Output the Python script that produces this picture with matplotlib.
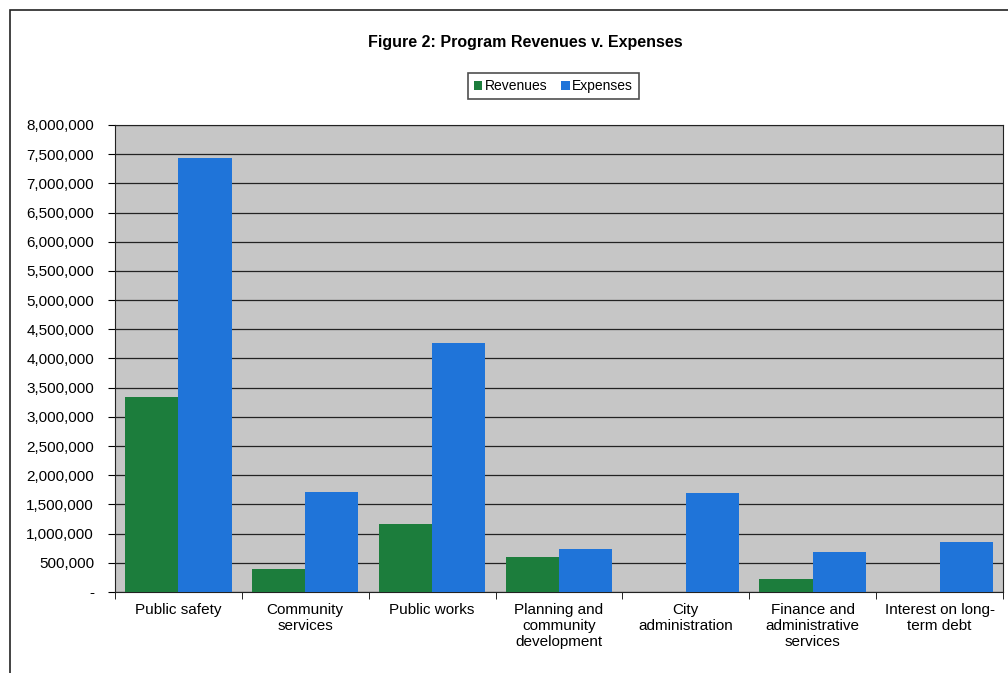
import matplotlib.pyplot as plt
import numpy as np
from matplotlib.patches import Rectangle

plt.rcParams['font.family'] = ['Liberation Sans', 'DejaVu Sans']

categories = ['Public safety', 'Community\nservices', 'Public works',
              'Planning and\ncommunity\ndevelopment', 'City\nadministration',
              'Finance and\nadministrative\nservices', 'Interest on long-\nterm debt']
revenues = [3340000, 390000, 1160000, 600000, 0, 220000, 0]
expenses = [7430000, 1710000, 4270000, 740000, 1700000, 685000, 860000]

fig = plt.figure(figsize=(10.08, 6.73), dpi=100)
fig.patches.append(Rectangle((10 / 1008, -0.1), 1.2, 1 - 10 / 673 + 0.1,
                             transform=fig.transFigure, fill=False,
                             edgecolor='#222222', linewidth=1.2))

ax = fig.add_axes([0.114, 0.1204, 0.881, 0.6939])
ax.set_facecolor('#c6c6c6')

x = np.arange(len(categories))
w = 0.42
ax.bar(x - w / 2, revenues, w, color='#1c7d3c', label='Revenues', zorder=3)
ax.bar(x + w / 2, expenses, w, color='#1f74d9', label='Expenses', zorder=3)

ax.set_xlim(-0.5, len(categories) - 0.5)
ax.set_ylim(0, 8000000)
yt = np.arange(0, 8000001, 500000)
ax.set_yticks(yt)
ax.set_yticklabels(['-'] + [f'{v:,}' for v in yt[1:]], fontsize=11)
ax.yaxis.grid(True, color='#222222', linewidth=0.9, zorder=1)
ax.set_axisbelow(True)

ax.set_xticks(x)
ax.set_xticklabels(categories, fontsize=11, linespacing=1.2)
ax.tick_params(axis='x', length=0, pad=8)
ax.set_xticks(np.arange(-0.5, len(categories), 1), minor=True)
ax.tick_params(axis='x', which='minor', length=5, direction='out')
ax.tick_params(axis='y', length=5, direction='out', pad=10)

for s in ax.spines.values():
    s.set_color('#222222')

fig.text(0.521, 1 - 42 / 673, 'Figure 2: Program Revenues v. Expenses',
         ha='center', va='center', fontsize=11.5, fontweight='bold')
leg = fig.legend(loc='center', bbox_to_anchor=(0.549, 1 - 86 / 673), ncol=2,
                 fontsize=10, frameon=True, fancybox=False, handlelength=0.6,
                 handleheight=0.6, handletextpad=0.2, columnspacing=1.0,
                 borderpad=0.4)
leg.get_frame().set_edgecolor('#222222')
leg.get_frame().set_linewidth(1.2)

fig.savefig('out.png', dpi=100)
